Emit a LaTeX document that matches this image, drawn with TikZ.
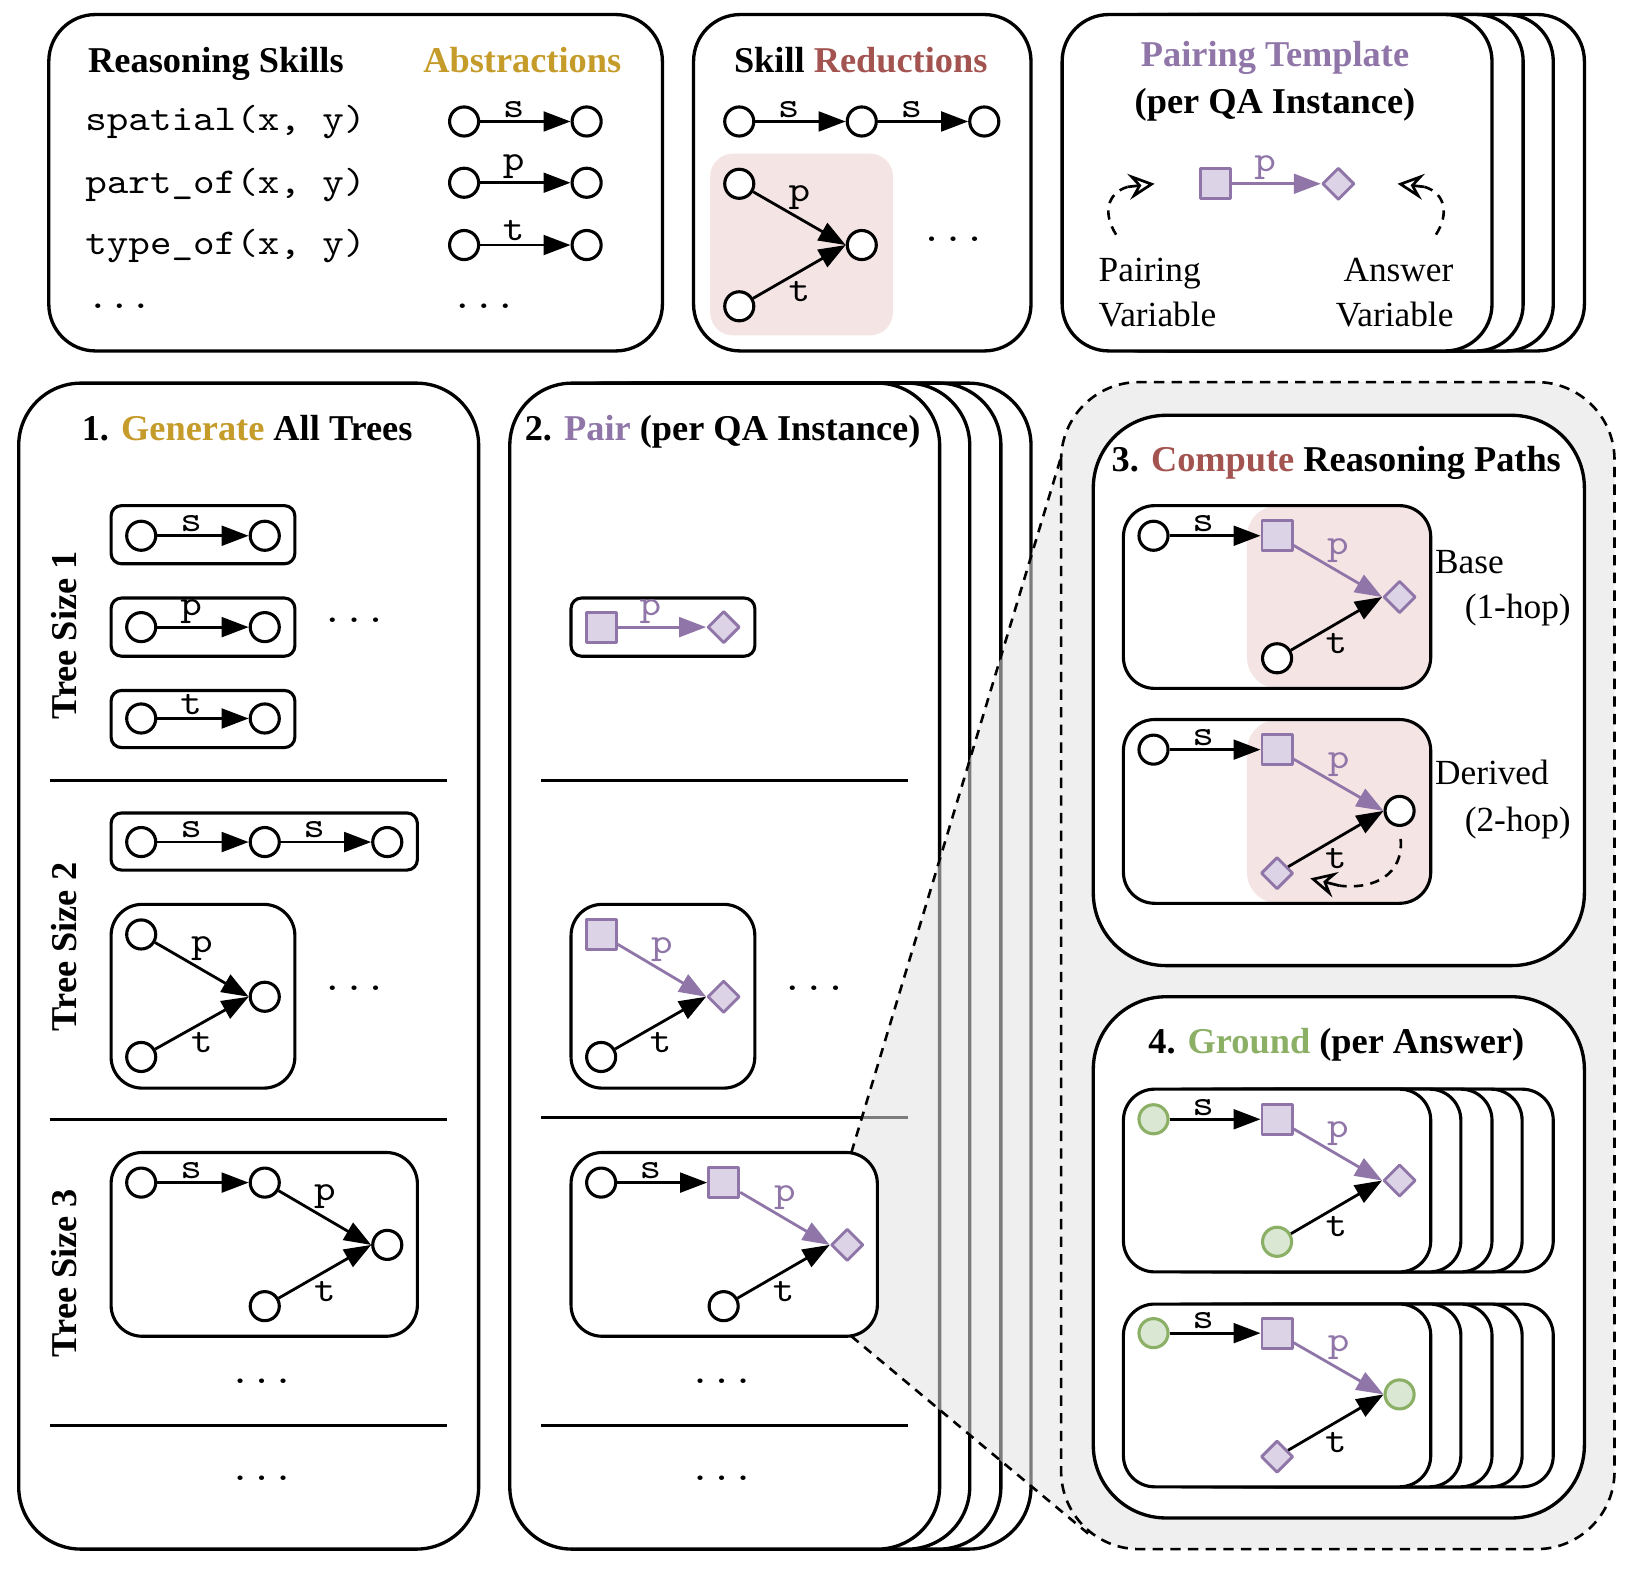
\documentclass[tikz,border=0pt]{standalone}
\usepackage{fontspec}
\setmainfont{Liberation Serif}
\setmonofont{lmmono10-regular}[Extension=.otf,FakeStretch=1.13]
\usetikzlibrary{arrows.meta,shapes.geometric}
\definecolor{gold}{RGB}{197,155,42}
\definecolor{redb}{RGB}{163,84,80}
\definecolor{purp}{RGB}{144,118,168}
\definecolor{purpfill}{RGB}{220,211,230}
\definecolor{grn}{RGB}{139,176,101}
\definecolor{grnfill}{RGB}{218,232,211}
\definecolor{pinkfill}{RGB}{245,228,228}
\definecolor{grayfill}{RGB}{239,239,239}
\newcommand\myttl{\fontsize{35}{42}\selectfont\bfseries}
\newcommand\mytxt{\fontsize{34}{40}\selectfont}
\newcommand\mymono{\fontsize{35}{41}\selectfont\ttfamily}
\begin{document}
\begin{tikzpicture}[x=1pt,y=-1pt,line join=round,
  panel/.style={draw,line width=3.2pt,fill=white,rounded corners=#1},panel/.default=45,
  tbox/.style={draw,line width=3pt,fill=white,rounded corners=#1},tbox/.default=10,
  cn/.style={circle,draw,line width=3pt,minimum size=28pt,inner sep=0pt,fill=white},
  gn/.style={cn,draw=grn,fill=grnfill},
  sq/.style={rectangle,draw=purp,fill=purpfill,line width=2.8pt,minimum size=29pt,inner sep=0pt},
  dm/.style={diamond,draw=purp,fill=purpfill,line width=2.8pt,minimum size=31pt,inner sep=0pt},
  ar/.style={line width=2.7pt,-{Triangle[length=26pt,width=19pt]}},
  par/.style={ar,purp},
  hl/.style={font=\mymono,pos=0.37,above,inner sep=2.5pt},
  dp/.style={font=\mymono,midway,yshift=20pt,inner sep=0pt},
  dt/.style={font=\mymono,midway,yshift=-19pt,inner sep=0pt},
  ttl/.style={font=\myttl,anchor=base,inner sep=0pt},
  txt/.style={font=\mytxt,inner sep=0pt},
  dots/.style={font=\mymono,inner sep=0pt},
  dline/.style={line width=2.5pt,dash pattern=on 9pt off 7pt},
  tipline/.style={line width=2.6pt,-{Stealth[open,length=25pt,width=25pt,inset=9pt]}}
]
\useasboundingbox (0,0) rectangle (1568,1532);

% ---------------- top-left: reasoning skills
\draw[panel=45] (47,14) rectangle (638,338);
\node[ttl] (tRS) at (208,70) {Reasoning Skills};
\node[ttl,text=gold] (tAb) at (503,70) {Abstractions};
\node[font=\mymono,anchor=west,inner sep=0pt] (r1) at (82,118) {spatial(x, y)};
\node[font=\mymono,anchor=west,inner sep=0pt] (r2) at (82,178) {part\_of(x, y)};
\node[font=\mymono,anchor=west,inner sep=0pt] (r3) at (82,237) {type\_of(x, y)};
\node[dots] (d1) at (115,295) {...};
\node[dots] (d2) at (466,295) {...};
\node[cn] (a1) at (447,117) {}; \node[cn] (a2) at (565,117) {};
\node[cn] (a3) at (447,176) {}; \node[cn] (a4) at (565,176) {};
\node[cn] (a5) at (447,236) {}; \node[cn] (a6) at (565,236) {};
\draw[ar] (a1) -- node[hl]{s} (a2);
\draw[ar] (a3) -- node[hl]{p} (a4);
\draw[ar] (a5) -- node[hl]{t} (a6);

% ---------------- top-middle: skill reductions
\draw[panel=45] (668,14) rectangle (993,338);
\node[ttl] (tSR) at (829,70) {Skill \textcolor{redb}{Reductions}};
\node[cn] (b1) at (712,117) {}; \node[cn] (b2) at (830,117) {}; \node[cn] (b3) at (948,117) {};
\draw[ar] (b1) -- node[hl]{s} (b2);
\draw[ar] (b2) -- node[hl]{s} (b3);
\fill[pinkfill,rounded corners=22] (684,148) rectangle (860,323);
\node[cn] (b4) at (712,177) {}; \node[cn] (b5) at (712,295) {}; \node[cn] (b6) at (830,236) {};
\draw[ar] (b4) -- node[dp]{p} (b6.west);
\draw[ar] (b5) -- node[dt]{t} (b6.west);
\node[dots] (d3) at (918,230) {...};

% ---------------- top-right: pairing template
\foreach \s in {89,59,30,0} { \draw[panel=45] (1023+\s,14) rectangle (1437+\s,338); }
\node[ttl,text=purp] (tPT) at (1228,64) {Pairing Template};
\node[ttl] (tPQ) at (1228,109) {(per QA Instance)};
\node[sq] (c1) at (1171,177) {}; \node[dm] (c2) at (1289,177) {};
\draw[par] (c1) -- node[hl,text=purp]{p} (c2);
\coordinate (pv1) at (1075,226); \coordinate (pv2) at (1086,180); \coordinate (pv3) at (1112,177);
\coordinate (av1) at (1383,226); \coordinate (av2) at (1372,180); \coordinate (av3) at (1346,177);
\draw[dline] (pv1) .. controls (1062,206) and (1066,186) .. (pv2);
\draw[tipline] (pv2) -- (pv3);
\draw[dline] (av1) .. controls (1396,206) and (1392,186) .. (av2);
\draw[tipline] (av2) -- (av3);
\node[txt,anchor=base west] (pvA) at (1058,271) {Pairing};
\node[txt,anchor=base west] (pvB) at (1058,314) {Variable};
\node[txt,anchor=base east] (avA) at (1400,271) {Answer};
\node[txt,anchor=base east] (avB) at (1400,314) {Variable};

% ---------------- panel 1
\draw[panel=60] (18,369) rectangle (461,1492);
\node[ttl] (t1) at (238,424) {1. \textcolor{gold}{Generate} All Trees};
\node[font=\myttl,rotate=90,inner sep=0pt] (ts1) at (62,612) {Tree Size 1};
\node[font=\myttl,rotate=90,inner sep=0pt] (ts2) at (62,912) {Tree Size 2};
\node[font=\myttl,rotate=90,inner sep=0pt] (ts3) at (62,1226) {Tree Size 3};
\draw[line width=3pt] (48,752) -- (431,752);
\draw[line width=3pt] (48,1078) -- (431,1078);
\draw[line width=3pt] (48,1373) -- (431,1373);
\draw[tbox=10] (107,487) rectangle (284,543);
\draw[tbox=10] (107,576) rectangle (284,632);
\draw[tbox=10] (107,665) rectangle (284,720);
\node[cn] (e1) at (136,516) {}; \node[cn] (e2) at (255,516) {};
\node[cn] (e3) at (136,604) {}; \node[cn] (e4) at (255,604) {};
\node[cn] (e5) at (136,692) {}; \node[cn] (e6) at (255,692) {};
\draw[ar] (e1) -- node[hl]{s} (e2);
\draw[ar] (e3) -- node[hl]{p} (e4);
\draw[ar] (e5) -- node[hl]{t} (e6);
\node[dots] (d4) at (341,597) {...};
\draw[tbox=10] (107,783) rectangle (402,838);
\node[cn] (f1) at (136,811) {}; \node[cn] (f2) at (255,811) {}; \node[cn] (f3) at (373,811) {};
\draw[ar] (f1) -- node[hl]{s} (f2);
\draw[ar] (f2) -- node[hl]{s} (f3);
\draw[tbox=30] (107,871) rectangle (284,1048);
\node[cn] (f4) at (136,900) {}; \node[cn] (f5) at (136,1018) {}; \node[cn] (f6) at (255,960) {};
\draw[ar] (f4) -- node[dp]{p} (f6.west);
\draw[ar] (f5) -- node[dt]{t} (f6.west);
\node[dots] (d5) at (341,952) {...};
\draw[tbox=30] (107,1110) rectangle (402,1287);
\node[cn] (g1) at (136,1139) {}; \node[cn] (g2) at (255,1139) {};
\node[cn] (g3) at (373,1199) {}; \node[cn] (g4) at (255,1258) {};
\draw[ar] (g1) -- node[hl]{s} (g2);
\draw[ar] (g2) -- node[dp]{p} (g3.west);
\draw[ar] (g4) -- node[dt]{t} (g3.west);
\node[dots] (d6) at (252,1330) {...};
\node[dots] (d7) at (252,1424) {...};

% ---------------- panel 2 (stack)
\foreach \s in {88,59,29,0} { \draw[panel=60] (491+\s,369) rectangle (905+\s,1492); }
\node[ttl] (t2) at (696,424) {2. \textcolor{purp}{Pair} (per QA Instance)};
\draw[line width=3pt] (521,752) -- (875,752);
\draw[line width=3pt] (521,1076) -- (875,1076);
\draw[line width=3pt] (521,1373) -- (875,1373);
\draw[tbox=10] (550,576) rectangle (727,632);
\node[sq] (h1) at (579,604) {}; \node[dm] (h2) at (697,604) {};
\draw[par] (h1) -- node[hl,text=purp]{p} (h2);
\draw[tbox=30] (550,871) rectangle (727,1048);
\node[sq] (h3) at (579,900) {}; \node[dm] (h4) at (697,960) {}; \node[cn] (h5) at (579,1018) {};
\draw[par] (h3) -- node[dp,text=purp]{p} (h4.west);
\draw[ar] (h5) -- node[dt]{t} (h4.west);
\node[dots] (d8) at (784,952) {...};
\node[dots] (d9) at (695,1330) {...};
\node[dots] (d10) at (695,1424) {...};

% ---------------- zoom region
\fill[black!11,opacity=0.55] (820,1110) -- (1022,440) -- (1100,440) -- (1100,1480) -- (1048,1477) -- (820,1287) -- cycle;
\draw[fill=grayfill,line width=2.5pt,dash pattern=on 10pt off 7pt,rounded corners=75] (1022,368) rectangle (1555,1492);
\coordinate (zA) at (820,1110); \coordinate (zB) at (1022,440);
\coordinate (zC) at (820,1287); \coordinate (zD) at (1048,1477);
\draw[dline] (zA) -- (zB);
\draw[dline] (zC) -- (zD);

% pair size 3 tree (on top)
\draw[tbox=30] (550,1110) rectangle (845,1287);
\node[cn] (h6) at (579,1139) {}; \node[sq] (h7) at (697,1139) {};
\node[dm] (h8) at (816,1199) {}; \node[cn] (h9) at (697,1258) {};
\draw[ar] (h6) -- node[hl]{s} (h7);
\draw[par] (h7) -- node[dp,text=purp]{p} (h8.west);
\draw[ar] (h9) -- node[dt]{t} (h8.west);

% ---------------- panel 3
\draw[panel=70] (1053,400) rectangle (1526,930);
\node[ttl] (t3) at (1287,454) {3. \textcolor{redb}{Compute} Reasoning Paths};
\fill[white,rounded corners=30] (1082,487) rectangle (1378,663);
\fill[pinkfill,rounded corners=30] (1201,487) rectangle (1378,663);
\draw[line width=3pt,rounded corners=30] (1082,487) rectangle (1378,663);
\node[cn] (k1) at (1111,516) {}; \node[sq] (k2) at (1230,516) {};
\node[dm] (k3) at (1348,575) {}; \node[cn] (k4) at (1230,634) {};
\draw[ar] (k1) -- node[hl]{s} (k2);
\draw[par] (k2) -- node[dp,text=purp]{p} (k3.west);
\draw[ar] (k4) -- node[dt]{t} (k3.west);
\node[txt,anchor=base west] (bs1) at (1382,552) {Base};
\node[txt,anchor=base east] (bs2) at (1513,596) {(1-hop)};
\fill[white,rounded corners=30] (1082,693) rectangle (1378,870);
\fill[pinkfill,rounded corners=30] (1201,693) rectangle (1378,870);
\draw[line width=3pt,rounded corners=30] (1082,693) rectangle (1378,870);
\node[cn] (m1) at (1111,722) {}; \node[sq] (m2) at (1230,722) {};
\node[cn] (m3) at (1348,781) {}; \node[dm] (m4) at (1230,841) {};
\draw[ar] (m1) -- node[hl]{s} (m2);
\draw[par] (m2) -- node[dp,text=purp]{p} (m3.west);
\draw[ar] (m4) -- node[dt]{t} (m3.west);
\coordinate (dv1) at (1349,808); \coordinate (dv2) at (1290,853); \coordinate (dv3) at (1262,846);
\draw[dline] (dv1) .. controls (1352,842) and (1324,857) .. (dv2);
\draw[tipline] (dv2) -- (dv3);
\node[txt,anchor=base west] (dr1) at (1382,756) {Derived};
\node[txt,anchor=base east] (dr2) at (1513,801) {(2-hop)};

% ---------------- panel 4
\draw[panel=70] (1053,960) rectangle (1526,1462);
\node[ttl] (t4) at (1287,1015) {4. \textcolor{grn}{Ground} (per Answer)};
\foreach \s in {118,88,59,29,0} { \draw[tbox=30] (1082+\s,1049) rectangle (1378+\s,1225); }
\node[gn] (n1) at (1111,1078) {}; \node[sq] (n2) at (1230,1078) {};
\node[dm] (n3) at (1348,1137) {}; \node[gn] (n4) at (1230,1196) {};
\draw[ar] (n1) -- node[hl]{s} (n2);
\draw[par] (n2) -- node[dp,text=purp]{p} (n3.west);
\draw[ar] (n4) -- node[dt]{t} (n3.west);
\foreach \s in {118,88,59,29,0} { \draw[tbox=30] (1082+\s,1256) rectangle (1378+\s,1432); }
\node[gn] (o1) at (1111,1284) {}; \node[sq] (o2) at (1230,1284) {};
\node[gn] (o3) at (1348,1343) {}; \node[dm] (o4) at (1230,1403) {};
\draw[ar] (o1) -- node[hl]{s} (o2);
\draw[par] (o2) -- node[dp,text=purp]{p} (o3.west);
\draw[ar] (o4) -- node[dt]{t} (o3.west);
\end{tikzpicture}
\end{document}
